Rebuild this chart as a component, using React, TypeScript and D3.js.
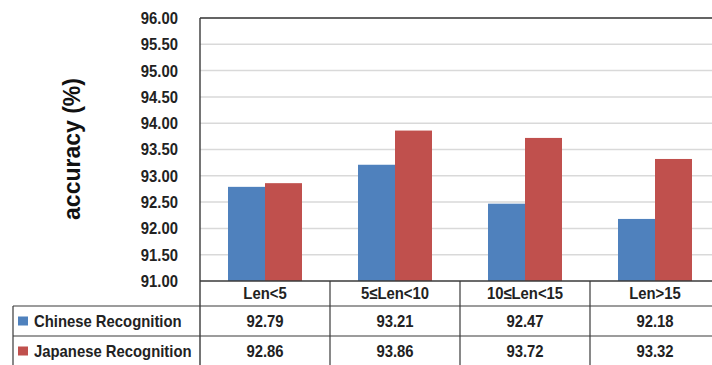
import React from "react";
import * as d3 from "d3";

const categories = ["Len<5", "5≤Len<10", "10≤Len<15", "Len>15"];
const seriesNames = ["Chinese Recognition", "Japanese Recognition"];
const chineseValues = [92.79, 93.21, 92.47, 92.18];
const japaneseValues = [92.86, 93.86, 93.72, 93.32];
const yTicks = [91, 91.5, 92, 92.5, 93, 93.5, 94, 94.5, 95, 95.5, 96];
const seriesColors = ["#4F81BD", "#C0504D"];

const W = 712;
const H = 365;
const plotLeft = 200;
const plotTop = 18;
const axisY = 281;
const colW = 130;
const headerBottom = 306;
const row1Bottom = 336;
const row2Bottom = 366;
const tableLeft = 13;

const FONT = "'Liberation Sans', Arial, sans-serif";
const LABEL_SIZE = 16.5;
const SQUEEZE = 0.9;

// Bold label drawn slightly condensed horizontally
function Label({
  x,
  y,
  anchor = "start",
  children,
}: {
  x: number;
  y: number;
  anchor?: "start" | "middle" | "end";
  children: React.ReactNode;
}) {
  return (
    <text
      transform={`translate(${x},${y}) scale(${SQUEEZE},1)`}
      dy="0.36em"
      textAnchor={anchor}
      fontSize={LABEL_SIZE}
      fontWeight="bold"
      fill="#222"
    >
      {children}
    </text>
  );
}

export default function App() {
  const series = [chineseValues, japaneseValues];
  const y = d3.scaleLinear().domain([91, 96]).range([axisY, plotTop]);
  const x = d3
    .scaleBand<string>()
    .domain(categories)
    .range([plotLeft, plotLeft + colW * categories.length])
    .paddingInner(0)
    .paddingOuter(0);
  const inner = d3
    .scaleBand<number>()
    .domain([0, 1])
    .range([0, x.bandwidth()])
    .paddingOuter(0.757)
    .paddingInner(0);

  const lineColor = "#3a3a3a";
  const rowsY = [headerBottom, row1Bottom, row2Bottom];
  const fmt = d3.format(".2f");

  return (
    <svg
      width={W}
      height={H}
      style={{ position: "absolute", left: 0, top: 0, background: "#fff" }}
      fontFamily={FONT}
    >
      {/* gridlines */}
      {yTicks.slice(1).map((t) => (
        <line
          key={"g" + t}
          x1={plotLeft}
          x2={W}
          y1={y(t)}
          y2={y(t)}
          stroke="#d9d9d9"
          strokeWidth={1.5}
        />
      ))}

      {/* bars */}
      {series.map((vals, si) =>
        vals.map((v, ci) => (
          <rect
            key={`b${si}-${ci}`}
            x={(x(categories[ci]) as number) + (inner(si) as number)}
            y={y(v)}
            width={inner.bandwidth()}
            height={axisY - y(v)}
            fill={seriesColors[si]}
          />
        ))
      )}

      {/* frame */}
      <line x1={plotLeft} x2={W} y1={plotTop} y2={plotTop} stroke={lineColor} strokeWidth={1.6} />
      <line x1={plotLeft} x2={plotLeft} y1={plotTop} y2={H} stroke={lineColor} strokeWidth={1.4} />

      {/* y tick labels */}
      {yTicks.map((t) => (
        <Label key={"t" + t} x={178} y={y(t)} anchor="end">
          {fmt(t)}
        </Label>
      ))}

      {/* y axis title */}
      <text
        transform={`translate(80,${(78 + 220) / 2}) rotate(-90)`}
        textAnchor="middle"
        fontSize={23}
        fontWeight="bold"
        fill="#111"
      >
        accuracy (%)
      </text>

      {/* data table lines */}
      <line x1={plotLeft} x2={W} y1={axisY} y2={axisY} stroke={lineColor} strokeWidth={1.4} />
      {rowsY.map((ry) => (
        <line key={"r" + ry} x1={tableLeft} x2={W} y1={ry} y2={ry} stroke={lineColor} strokeWidth={1.2} />
      ))}
      <line x1={tableLeft} x2={tableLeft} y1={headerBottom} y2={H} stroke={lineColor} strokeWidth={1.2} />
      {categories.map((c) => (
        <line
          key={"v" + c}
          x1={(x(c) as number) + colW}
          x2={(x(c) as number) + colW}
          y1={axisY}
          y2={H}
          stroke={lineColor}
          strokeWidth={1.2}
        />
      ))}

      {/* header row */}
      {categories.map((c) => (
        <Label key={"h" + c} x={(x(c) as number) + colW / 2} y={(axisY + headerBottom) / 2} anchor="middle">
          {c}
        </Label>
      ))}

      {/* series rows */}
      {series.map((vals, si) => {
        const top = rowsY[si];
        const bottom = rowsY[si + 1];
        const cy = (top + bottom) / 2;
        return (
          <g key={"s" + si}>
            <rect x={18} y={cy - 4.5} width={10} height={9} fill={seriesColors[si]} />
            <Label x={34} y={cy}>
              {seriesNames[si]}
            </Label>
            {vals.map((v, ci) => (
              <Label
                key={"c" + ci}
                x={(x(categories[ci]) as number) + colW / 2}
                y={cy}
                anchor="middle"
              >
                {fmt(v)}
              </Label>
            ))}
          </g>
        );
      })}
    </svg>
  );
}
